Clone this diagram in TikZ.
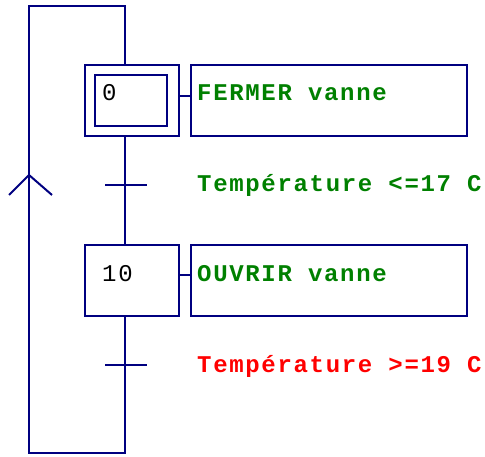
\documentclass[tikz,border=0pt]{standalone}
\usepackage{fontspec}
\newfontfamily\courb[LetterSpace=7]{Liberation Mono}
\definecolor{gnavy}{RGB}{0,0,128}
\definecolor{ggreen}{RGB}{0,128,0}
\definecolor{gred}{RGB}{255,0,0}
\begin{document}
\begin{tikzpicture}[x=1pt,y=-1pt,
  ln/.style={draw=gnavy,line width=2pt},
  box/.style={ln,rectangle,inner sep=0pt,minimum width=94pt,minimum height=71pt},
  inbox/.style={ln,rectangle,inner sep=0pt,minimum width=72pt,minimum height=51pt},
  actbox/.style={ln,rectangle,inner sep=0pt,minimum width=276pt,minimum height=71pt},
  txt/.style={anchor=base west,inner sep=0pt,font=\courb\fontsize{24}{24}\selectfont},
  act/.style={txt,text=ggreen,font=\courb\bfseries\fontsize{24}{24}\selectfont},
  cond/.style={act},
  num/.style={txt,text=black}]
\useasboundingbox (0,0) rectangle (485,457);
% main axis
\coordinate (ax) at (125,0);
% steps
\node[box] (s0) at (132,100.5) {};
\node[inbox] (s0i) at (131,100.5) {};
\node[box] (s10) at (132,280.5) {};
\node[num] (n0) at (102,101) {0};
\node[num] (n10) at (102,282) {10};
% actions
\node[actbox] (a0) at (329,100.5) {};
\node[actbox] (a10) at (329,280.5) {};
\node[act] (t0) at (197,101) {FERMER vanne};
\node[act] (t10) at (197,282) {OUVRIR vanne};
\draw[ln] (s0.east |- 0,96) -- (a0.west |- 0,96);
\draw[ln] (s10.east |- 0,275) -- (a10.west |- 0,275);
% transitions
\draw[ln] (105,185) -- (147,185);
\draw[ln] (105,365) -- (147,365);
\node[cond] (c1) at (197,192) {Température <=17 C};
\node[cond,text=gred] (c2) at (197,372) {Température >=19 C};
% links
\draw[ln] (s0.south -| ax) -- (s10.north -| ax);
\coordinate (b1) at (125,453);
\coordinate (b2) at (29,453);
\coordinate (u1) at (29,6);
\coordinate (u2) at (125,6);
\draw[ln] (s10.south -| ax) -- (b1) -- (b2) -- (u1) -- (u2) -- (s0.north -| ax);
% arrow chevron
\coordinate (ap) at (29,175);
\draw[ln] (9,195) -- (ap) -- (52,195);
\end{tikzpicture}
\end{document}
